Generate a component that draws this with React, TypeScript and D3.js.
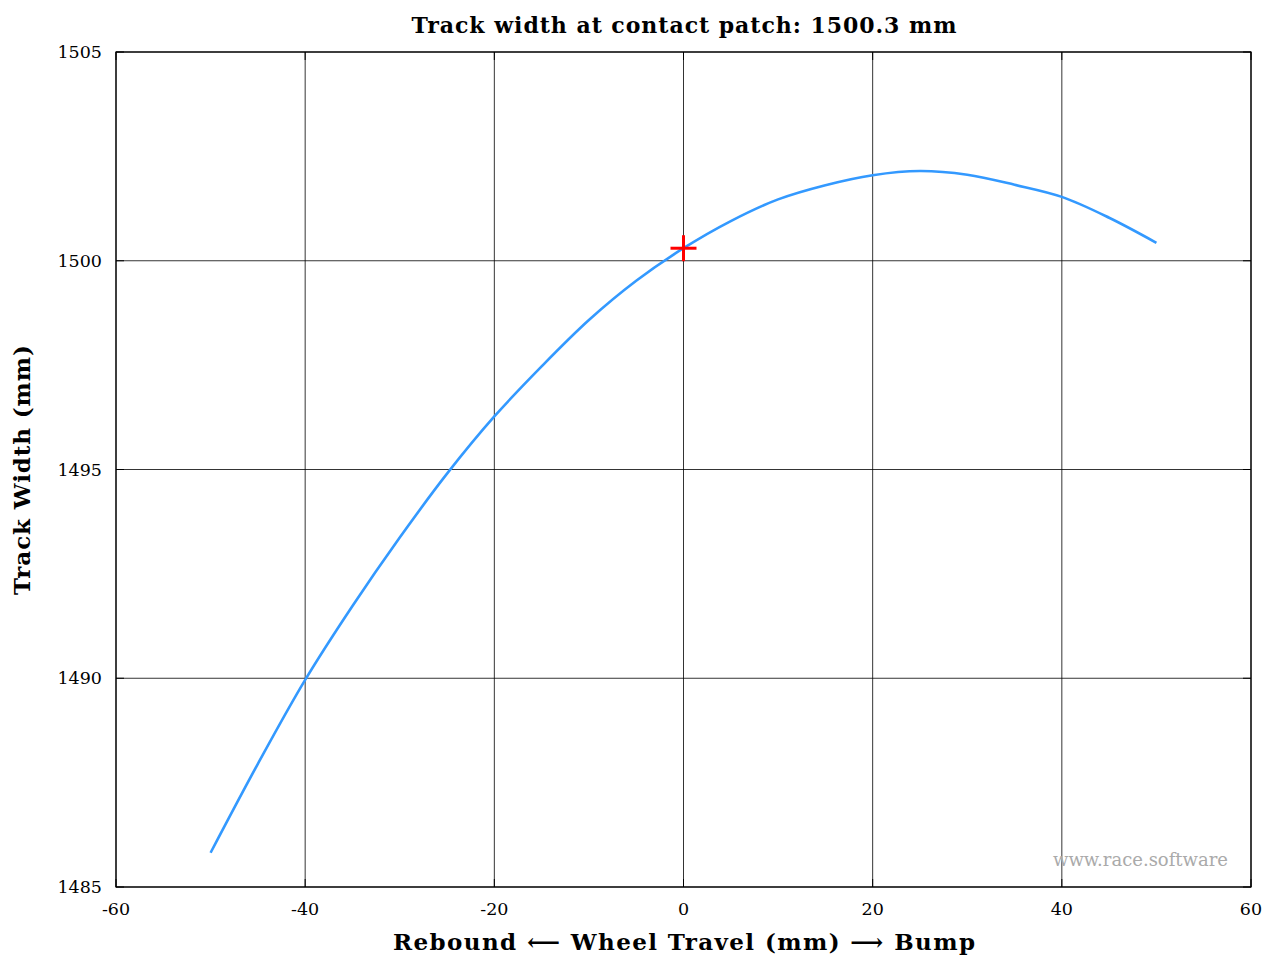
import React from "react";
import * as d3 from "d3";

// Wheel travel (mm) and resulting track width (mm)
const travel = [-50, -45, -40, -35, -30, -25, -20, -15, -10, -5, 0, 5, 10, 15, 20, 25, 30, 35, 40, 45, 50];
const trackWidth = [
  1485.82, 1487.95, 1489.96, 1491.73, 1493.37, 1494.9, 1496.27, 1497.47, 1498.58, 1499.52,
  1500.3, 1500.95, 1501.47, 1501.81, 1502.05, 1502.15, 1502.06, 1501.82, 1501.53, 1501.03, 1500.43,
];
const xTicks = [-60, -40, -20, 0, 20, 40, 60];
const yTicks = [1485, 1490, 1495, 1500, 1505];
const staticPoint = { travel: 0, width: 1500.3 };
const titleText = "Track width at contact patch: 1500.3 mm";

const W = 1267;
const H = 958;
const M = { left: 116, right: 1251, top: 52, bottom: 887 };
const FONT = "'DejaVu Serif', 'Liberation Serif', serif";

export default function App() {
  const x = d3.scaleLinear().domain([-60, 60]).range([M.left, M.right]);
  const y = d3.scaleLinear().domain([1485, 1505]).range([M.bottom, M.top]);
  const line = d3
    .line<number>()
    .x((_, i) => x(travel[i]))
    .y((d) => y(d))
    .curve(d3.curveCatmullRom.alpha(0.5));
  const px = x(staticPoint.travel);
  const py = y(staticPoint.width);
  const tick = 8;

  return (
    <svg
      width={W}
      height={H}
      style={{ position: "absolute", left: 0, top: 0, background: "#fff" }}
      fontFamily={FONT}
    >
      {/* grid */}
      {xTicks.map((t) => (
        <line key={"gx" + t} x1={x(t)} x2={x(t)} y1={M.top} y2={M.bottom} stroke="#000" strokeWidth={0.8} />
      ))}
      {yTicks.map((t) => (
        <line key={"gy" + t} x1={M.left} x2={M.right} y1={y(t)} y2={y(t)} stroke="#000" strokeWidth={0.8} />
      ))}
      {/* inward tick marks */}
      {xTicks.map((t) => (
        <g key={"tx" + t} stroke="#000" strokeWidth={1}>
          <line x1={x(t)} x2={x(t)} y1={M.bottom} y2={M.bottom - tick} />
          <line x1={x(t)} x2={x(t)} y1={M.top} y2={M.top + tick} />
        </g>
      ))}
      {yTicks.map((t) => (
        <g key={"ty" + t} stroke="#000" strokeWidth={1}>
          <line x1={M.left} x2={M.left + tick} y1={y(t)} y2={y(t)} />
          <line x1={M.right} x2={M.right - tick} y1={y(t)} y2={y(t)} />
        </g>
      ))}
      <rect
        x={M.left}
        y={M.top}
        width={M.right - M.left}
        height={M.bottom - M.top}
        fill="none"
        stroke="#000"
        strokeWidth={1.2}
      />
      {/* tick labels */}
      {xTicks.map((t) => (
        <text key={"lx" + t} x={x(t)} y={M.bottom + 28} textAnchor="middle" fontSize={17.5}>
          {t}
        </text>
      ))}
      {yTicks.map((t) => (
        <text key={"ly" + t} x={M.left - 14} y={y(t) + 6} textAnchor="end" fontSize={17.5}>
          {t}
        </text>
      ))}
      {/* watermark */}
      <text x={1228} y={866} textAnchor="end" fontSize={18} fill="#aaa">
        www.race.software
      </text>
      {/* curve */}
      <path d={line(trackWidth) ?? ""} fill="none" stroke="#3399ff" strokeWidth={2.6} />
      {/* static position marker */}
      <g stroke="#ff0000" strokeWidth={3}>
        <line x1={px - 13} x2={px + 13} y1={py} y2={py} />
        <line x1={px} x2={px} y1={py - 13} y2={py + 13} />
      </g>
      {/* title and axis labels */}
      <text
        x={684}
        y={33}
        textAnchor="middle"
        fontSize={22}
        fontWeight="bold"
        textLength={545}
        lengthAdjust="spacing"
      >
        {titleText}
      </text>
      <text
        x={684}
        y={950}
        textAnchor="middle"
        fontSize={23}
        fontWeight="bold"
        textLength={582}
        lengthAdjust="spacing"
      >
        Rebound ⟵ Wheel Travel (mm) ⟶ Bump
      </text>
      <text
        transform={`translate(30, 470) rotate(-90)`}
        textAnchor="middle"
        fontSize={23}
        fontWeight="bold"
        textLength={250}
        lengthAdjust="spacing"
      >
        Track Width (mm)
      </text>
    </svg>
  );
}
